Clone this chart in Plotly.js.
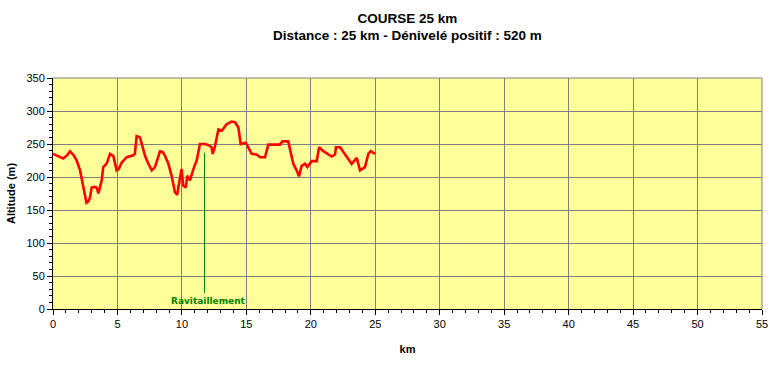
<!DOCTYPE html>
<html>
<head>
<meta charset="utf-8">
<script src="https://cdn.plot.ly/plotly-3.0.1.min.js"></script>
<style>html,body{margin:0;padding:0;background:#fff;}#chart{width:773px;height:365px;}</style>
</head>
<body>
<div id="chart"></div>
<script>
// Profile of the course (distance in km, altitude in m)
const distanceKm = [0, 0.4, 0.8, 1.1, 1.32, 1.6, 1.84, 2.1, 2.35, 2.6, 2.75, 2.87, 3.0, 3.2, 3.39, 3.52, 3.78, 3.9, 4.16, 4.42, 4.68, 4.94, 5.1, 5.33, 5.72, 6.23, 6.35, 6.49, 6.75, 6.95, 7.14, 7.4, 7.66, 7.91, 8.04, 8.3, 8.5, 8.69, 8.95, 9.2, 9.46, 9.64, 9.72, 9.98, 10.1, 10.3, 10.42, 10.63, 10.89, 11.15, 11.4, 11.8, 12.1, 12.3, 12.39, 12.55, 12.83, 13.1, 13.47, 13.86, 14.12, 14.38, 14.56, 14.95, 15.15, 15.41, 15.8, 16.06, 16.45, 16.7, 17.6, 17.8, 18.25, 18.5, 18.64, 18.9, 19.08, 19.29, 19.55, 19.73, 20.07, 20.46, 20.64, 20.92, 21.23, 21.62, 21.88, 21.95, 22.27, 22.65, 23.17, 23.56, 23.82, 24.2, 24.46, 24.65, 24.98];
const altitudeM  = [235, 232, 228, 233, 239, 233, 225, 210, 184, 161, 163, 169, 184, 185, 184, 175, 195, 215, 220, 235, 232, 210, 212, 222, 230, 233, 235, 262, 260, 245, 232, 220, 210, 215, 222, 239, 238, 232, 220, 202, 177, 173, 184, 212, 187, 184, 202, 195, 212, 225, 250, 250, 248, 245, 235, 245, 272, 270, 280, 284, 283, 275, 250, 252, 245, 235, 234, 230, 230, 249, 249, 254, 254, 235, 220, 210, 201, 217, 220, 215, 224, 224, 245, 240, 236, 231, 234, 245, 245, 235, 220, 229, 210, 215, 235, 239, 235];

// Supply point (ravitaillement) marker
const ravitoKm = [11.75, 11.75];
const ravitoAlt = [237, 24];
const ravitoLabel = "Ravitaillement";

const titleText = "COURSE 25 km<br>Distance : 25 km - Dénivelé positif : 520 m";

const traces = [
  {x: distanceKm, y: altitudeM, type: 'scatter', mode: 'lines',
   line: {color: '#FF0000', width: 2.6}, hoverinfo: 'skip'},
  {x: ravitoKm, y: ravitoAlt, type: 'scatter', mode: 'lines',
   line: {color: '#008000', width: 1}, hoverinfo: 'skip'}
];

const tickFont = {family: 'Arial, "Liberation Sans", sans-serif', size: 11, color: '#000'};

const layout = {
  width: 773, height: 365,
  margin: {l: 53, r: 11, t: 78, b: 56},
  paper_bgcolor: '#FFFFFF',
  plot_bgcolor: '#FFFF99',
  showlegend: false,
  title: {text: titleText, x: 0.527, xanchor: 'center', y: 0.938, yanchor: 'top',
          font: {family: '"Liberation Sans Narrow", "Arial Narrow", Arial, sans-serif', size: 13.5, color: '#000', weight: 'bold'}},
  xaxis: {
    range: [0, 55], dtick: 5, tick0: 0,
    showgrid: true, gridcolor: '#808080', gridwidth: 1,
    showline: true, linecolor: '#000', linewidth: 1,
    ticks: 'outside', ticklen: 5, tickcolor: '#000',
    minor: {dtick: 1, ticks: 'outside', ticklen: 3, tickcolor: '#000', showgrid: false},
    tickfont: tickFont, zeroline: false, fixedrange: true,
    title: {text: 'km', standoff: 16, font: {family: 'Arial, "Liberation Sans", sans-serif', size: 11, color: '#000', weight: 'bold'}}
  },
  yaxis: {
    range: [0, 350], dtick: 50, tick0: 0,
    showgrid: true, gridcolor: '#808080', gridwidth: 1,
    showline: true, linecolor: '#000', linewidth: 1,
    ticks: 'outside', ticklen: 5, tickcolor: '#000',
    minor: {dtick: 10, ticks: 'outside', ticklen: 3, tickcolor: '#000', showgrid: false},
    tickfont: tickFont, zeroline: false, fixedrange: true,
    title: {text: 'Altitude (m)', standoff: 8, font: {family: 'Arial, "Liberation Sans", sans-serif', size: 11, color: '#000', weight: 'bold'}}
  },
  shapes: [
    {type: 'line', xref: 'paper', yref: 'paper', x0: 0, x1: 1, y0: 1, y1: 1, line: {color: '#808080', width: 1}},
    {type: 'line', xref: 'paper', yref: 'paper', x0: 1, x1: 1, y0: 0, y1: 1, line: {color: '#808080', width: 1}}
  ],
  annotations: [
    {x: ravitoKm[1], y: ravitoAlt[1], xref: 'x', yref: 'y', text: ravitoLabel, showarrow: false,
     xanchor: 'center', yanchor: 'top', xshift: 4, yshift: -1,
     font: {family: 'Verdana, "DejaVu Sans", sans-serif', size: 9, color: '#008000', weight: 'bold'}}
  ]
};

Plotly.newPlot('chart', traces, layout, {displayModeBar: false, staticPlot: true});
</script>
</body>
</html>
